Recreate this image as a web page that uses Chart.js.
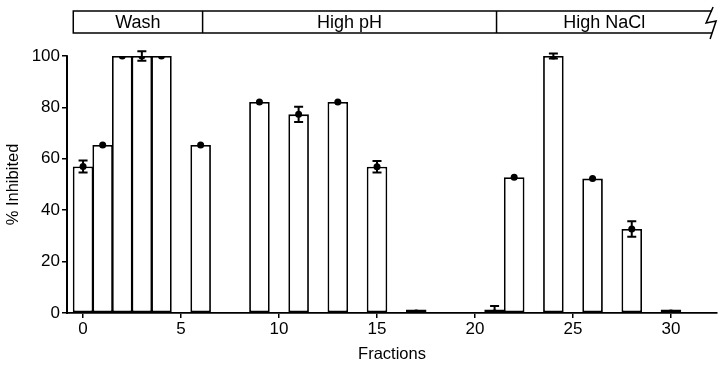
<!DOCTYPE html>
<html>
<head>
<meta charset="utf-8">
<script src="https://cdn.jsdelivr.net/npm/chart.js@4"></script>
<style>
  html, body { margin: 0; padding: 0; background: #fff; }
  #wrap { width: 727px; height: 370px; }
</style>
</head>
<body>
<div id="wrap"><canvas id="chart" width="727" height="370"></canvas></div>
<script>
// fraction numbers and % inhibited (mean +/- error)
const fractions = [0, 1, 2, 3, 4, 6, 9, 11, 13, 15, 17, 21, 22, 24, 26, 28, 30];
const inhibited = [57, 65.4, 100, 100, 100, 65.4, 82.1, 77.3, 82.1, 56.9, 0, 0, 52.8, 100, 52.3, 32.7, 0];
const errors    = [2.3, 0, 0, 1.8, 0, 0, 0, 3, 0, 2.2, 0, 2.7, 0, 1, 0, 3, 0];
const xTicks = [0, 5, 10, 15, 20, 25, 30];
const yTicks = [0, 20, 40, 60, 80, 100];

// elution steps shown in the banner (edges in fraction units)
const stepLabels = ['Wash', 'High pH', 'High NaCl'];
const stepEdges = [-0.5, 6.1, 21.1, 32.1];

const FONT = 'Liberation Sans, Arial, sans-serif';

// error bars drawn on top of the bars, plus the y axis line
const errorBars = {
  id: 'errorBars',
  afterDatasetsDraw(chart) {
    const ctx = chart.ctx;
    const x = chart.scales.x, y = chart.scales.y;
    const area = chart.chartArea;
    ctx.save();
    ctx.strokeStyle = '#000';
    ctx.lineWidth = 2;
    ctx.beginPath();
    ctx.moveTo(area.left, area.top);
    ctx.lineTo(area.left, area.bottom + 1);
    ctx.stroke();
    fractions.forEach((f, i) => {
      const e = errors[i];
      if (!e) return;
      const px = x.getPixelForValue(f);
      const lo = Math.max(0, inhibited[i] - e);
      const pTop = y.getPixelForValue(inhibited[i] + e);
      const pBot = y.getPixelForValue(lo);
      ctx.beginPath();
      ctx.moveTo(px, pTop); ctx.lineTo(px, pBot);
      ctx.moveTo(px - 4.5, pTop); ctx.lineTo(px + 4.5, pTop);
      if (lo > 0) { ctx.moveTo(px - 4.5, pBot); ctx.lineTo(px + 4.5, pBot); }
      ctx.stroke();
    });
    ctx.restore();
  }
};

// banner with the elution steps above the plot
const stepBanner = {
  id: 'stepBanner',
  afterDraw(chart) {
    const ctx = chart.ctx;
    const x = chart.scales.x;
    const top = chart.chartArea.top - 45, bottom = chart.chartArea.top - 23;
    const xs = stepEdges.map(v => x.getPixelForValue(v));
    const left = xs[0], right = xs[xs.length - 1];
    ctx.save();
    ctx.strokeStyle = '#000';
    ctx.lineWidth = 1.5;
    ctx.beginPath();
    ctx.moveTo(right, top); ctx.lineTo(left, top);
    ctx.lineTo(left, bottom); ctx.lineTo(right, bottom);
    for (let i = 1; i < xs.length - 1; i++) {
      ctx.moveTo(xs[i], top); ctx.lineTo(xs[i], bottom);
    }
    ctx.stroke();
    // break mark at the right end
    ctx.beginPath();
    ctx.moveTo(right + 1, top - 4);
    ctx.lineTo(right - 6, (top + bottom) / 2 + 1);
    ctx.lineTo(right + 4, (top + bottom) / 2 - 1);
    ctx.lineTo(right - 2, bottom + 6);
    ctx.stroke();
    ctx.fillStyle = '#000';
    ctx.font = '18px ' + FONT;
    ctx.textAlign = 'center';
    ctx.textBaseline = 'middle';
    stepLabels.forEach((s, i) => {
      ctx.fillText(s, (xs[i] + xs[i + 1]) / 2, (top + bottom) / 2 + 1);
    });
    ctx.restore();
  }
};

new Chart(document.getElementById('chart'), {
  type: 'bar',
  data: {
    datasets: [{
      type: 'scatter',
      data: fractions.map((f, i) => ({ x: f, y: inhibited[i] })),
      pointRadius: 3.5,
      pointBackgroundColor: '#000',
      pointBorderColor: '#000',
      pointBorderWidth: 0,
      order: 0
    }, {
      type: 'bar',
      data: fractions.map((f, i) => ({ x: f, y: inhibited[i] })),
      backgroundColor: '#fff',
      borderColor: '#000',
      borderWidth: 1.8,
      borderSkipped: false,
      barPercentage: 1.05,
      categoryPercentage: 1,
      minBarLength: 3.5,
      order: 1
    }]
  },
  options: {
    responsive: false,
    animation: false,
    layout: { padding: { top: 56, right: 10, left: 0, bottom: 0 } },
    plugins: { legend: { display: false }, tooltip: { enabled: false } },
    scales: {
      x: {
        type: 'linear',
        offset: false,
        min: -0.82,
        max: 32.35,
        afterBuildTicks: s => { s.ticks = xTicks.map(v => ({ value: v })); },
        afterFit: s => { s.height = 57; },
        grid: { display: true, offset: false, drawOnChartArea: false, drawTicks: true, tickLength: 5, color: '#000', lineWidth: 1.5 },
        border: { display: true, color: '#000', width: 1.8 },
        ticks: { color: '#000', font: { family: FONT, size: 17 }, padding: 1, maxRotation: 0 },
        title: { display: true, text: 'Fractions', color: '#000', font: { family: FONT, size: 16.5 }, padding: { top: 0, bottom: 6 } }
      },
      y: {
        min: 0,
        max: 100,
        afterBuildTicks: s => { s.ticks = yTicks.map(v => ({ value: v })); },
        afterFit: s => { s.width = 67; },
        grid: { display: true, drawOnChartArea: false, drawTicks: true, tickLength: 5, color: '#000', lineWidth: 1.5 },
        border: { display: true, color: '#000', width: 1.8 },
        ticks: { color: '#000', font: { family: FONT, size: 17 }, padding: 2 },
        title: { display: true, text: '% Inhibited', color: '#000', font: { family: FONT, size: 16.5 }, padding: { top: 4, bottom: 0 } }
      }
    }
  },
  plugins: [errorBars, stepBanner]
});
</script>
</body>
</html>
